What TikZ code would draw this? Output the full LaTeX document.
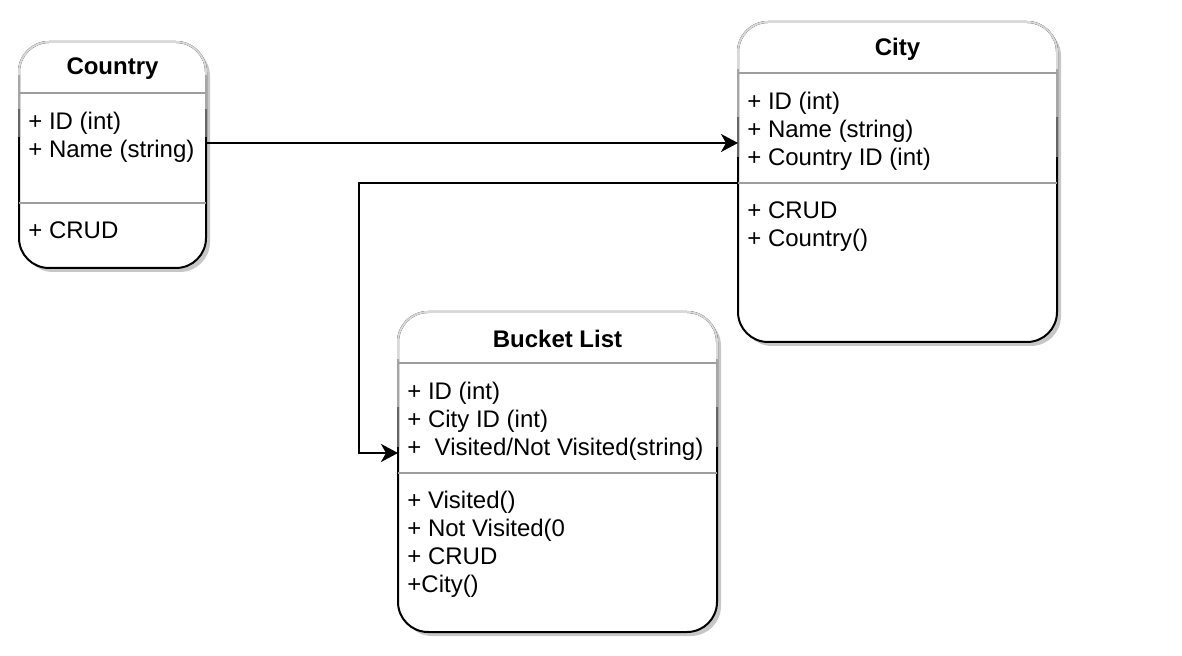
\documentclass[tikz,border=0pt]{standalone}
\usepackage{fontspec}
\setmainfont{Liberation Sans}
\usetikzlibrary{positioning,calc,arrows.meta,shadows}

\tikzset{
  classbox/.style={draw=black, line width=1pt, fill=white, rounded corners=15pt,
    inner sep=0pt, outer sep=0pt,
    drop shadow={shadow xshift=2pt, shadow yshift=-2pt, fill=black!22, opacity=1}},
  classname/.style={font=\bfseries\fontsize{12}{14}\selectfont, inner sep=0pt},
  members/.style={font=\fontsize{12}{14}\selectfont, align=left, anchor=north west, inner sep=0pt},
  divider/.style={draw=black!38, line width=0.7pt},
  conn/.style={draw=black, line width=1pt, -{Stealth[length=8.5pt, width=9pt, inset=2.5pt]}}
}

\begin{document}
\begin{tikzpicture}[x=0.5pt, y=-0.5pt]
    \useasboundingbox (0,0) rectangle (1182,656);

    % classes
    \node[classbox, minimum width=93.5pt, minimum height=113pt] (country) at (112.5,155) {};
    \node[classbox, minimum width=159.5pt, minimum height=160pt] (city) at (897.5,182) {};
    \node[classbox, minimum width=159.5pt, minimum height=160pt] (bucket) at (557.5,472) {};

    % lighter border at the top, dividers
    \foreach \b in {country,city,bucket} {
      \foreach \lo/\hi/\g in {-0.05/0.15/15, 0.15/0.3/35, 0.3/0.42/60} {
        \begin{scope}
          \clip ($(\b.north west)!\lo!(\b.south west)+(-6,0)$) rectangle ($(\b.north east)!\hi!(\b.south east)+(6,0)$);
          \draw[black!\g, line width=1pt, rounded corners=15pt] (\b.north west) rectangle (\b.south east);
        \end{scope}
      }
      \draw[divider] ($(\b.north west)+(0,51)$) -- ($(\b.north east)+(0,51)$);
      \draw[divider] ($(\b.north west)+(0,161)$) -- ($(\b.north east)+(0,161)$);
    }

    % Country
    \node[classname] (countrytitle) at ($(country.north)+(0,27)$) {Country};
    \node[members] (countryattrs) at ($(country.north west)+(9,70)$) {+ ID (int)\\+ Name (string)};
    \node[members] (countryops) at ($(country.north west)+(9,179)$) {+ CRUD};

    % City
    \node[classname] (citytitle) at ($(city.north)+(0,27)$) {City};
    \node[members] (cityattrs) at ($(city.north west)+(9,70)$) {+ ID (int)\\+ Name (string)\\+ Country ID (int)};
    \node[members] (cityops) at ($(city.north west)+(9,179)$) {+ CRUD\\+ Country()};

    % Bucket List
    \node[classname] (buckettitle) at ($(bucket.north)+(0,27)$) {Bucket List};
    \node[members] (bucketattrs) at ($(bucket.north west)+(9,70)$) {+ ID (int)\\+ City ID (int)\\+ \ Visited/Not Visited(string)};
    \node[members] (bucketops) at ($(bucket.north west)+(9,179)$) {+ Visited()\\+ Not Visited(0\\+ CRUD\\+City()};

    % connectors
    \draw[conn] (country.east |- 0,143) -- (city.west |- 0,143);
    \coordinate (bend) at (359,183);
    \draw[conn] (city.west |- bend) -- (bend) |- (bucket.west |- 0,453);
\end{tikzpicture}
\end{document}
